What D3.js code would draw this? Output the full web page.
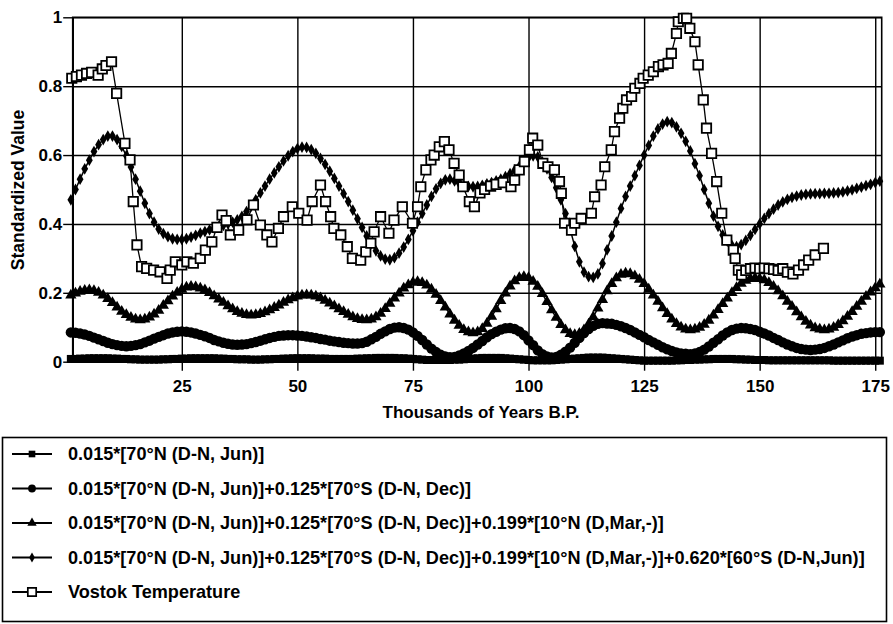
<!DOCTYPE html>
<html>
<head>
<meta charset="utf-8">
<script src="https://cdn.jsdelivr.net/npm/d3@7"></script>
<style>
  body { margin: 0; background: #fff; }
  text { font-family: "Liberation Sans", Arial, Helvetica, sans-serif; font-weight: bold; fill: #000; }
</style>
</head>
<body>
<svg id="chart"></svg>
<script>
// ages in thousands of years B.P., one value per kyr
const ages = d3.range(1, 177);

// 0.015*[70N (D-N, Jun)]
const s70N = [
  0.008,0.008,0.009,0.009,0.01,0.01,0.01,0.01,0.01,0.009,
  0.009,0.008,0.008,0.007,0.007,0.006,0.006,0.006,0.006,0.006,
  0.007,0.007,0.008,0.008,0.009,0.009,0.01,0.01,0.01,0.01,
  0.01,0.01,0.009,0.009,0.008,0.008,0.007,0.007,0.007,0.006,
  0.006,0.006,0.007,0.007,0.008,0.008,0.009,0.009,0.01,0.01,
  0.01,0.01,0.01,0.009,0.009,0.009,0.008,0.008,0.008,0.008,
  0.008,0.008,0.009,0.009,0.01,0.01,0.011,0.011,0.011,0.011,
  0.011,0.01,0.01,0.009,0.008,0.007,0.006,0.005,0.005,0.005,
  0.005,0.005,0.005,0.006,0.006,0.007,0.008,0.009,0.01,0.011,
  0.011,0.011,0.011,0.011,0.01,0.009,0.008,0.007,0.006,0.005,
  0.004,0.004,0.004,0.004,0.004,0.005,0.006,0.007,0.008,0.009,
  0.01,0.011,0.012,0.012,0.012,0.012,0.011,0.01,0.009,0.008,
  0.007,0.006,0.005,0.004,0.003,0.003,0.003,0.003,0.003,0.003,
  0.003,0.004,0.004,0.005,0.005,0.006,0.006,0.007,0.007,0.008,
  0.008,0.008,0.008,0.008,0.007,0.007,0.006,0.006,0.005,0.005,
  0.005,0.004,0.004,0.004,0.004,0.004,0.004,0.004,0.004,0.004,
  0.004,0.004,0.004,0.004,0.004,0.003,0.003,0.003,0.003,0.003,
  0.003,0.003,0.003,0.003,0.003,0.003
];

// + 0.125*[70S (D-N, Dec)]
const s70S = [
  0.085,0.084,0.082,0.079,0.075,0.070,0.065,0.060,0.055,0.051,
  0.048,0.046,0.045,0.046,0.048,0.051,0.056,0.061,0.067,0.072,
  0.077,0.082,0.085,0.087,0.088,0.087,0.085,0.082,0.078,0.074,
  0.069,0.063,0.059,0.055,0.052,0.050,0.049,0.050,0.051,0.054,
  0.057,0.061,0.065,0.069,0.072,0.075,0.076,0.077,0.077,0.076,
  0.075,0.073,0.071,0.069,0.066,0.064,0.061,0.059,0.057,0.055,
  0.054,0.053,0.053,0.054,0.058,0.065,0.072,0.081,0.088,0.095,
  0.099,0.100,0.098,0.093,0.085,0.075,0.063,0.050,0.038,0.028,
  0.020,0.015,0.013,0.014,0.018,0.024,0.031,0.040,0.050,0.060,
  0.071,0.080,0.087,0.093,0.097,0.098,0.095,0.088,0.077,0.062,
  0.048,0.033,0.022,0.015,0.012,0.014,0.020,0.029,0.041,0.055,
  0.069,0.083,0.095,0.104,0.110,0.112,0.111,0.110,0.107,0.103,
  0.098,0.092,0.085,0.078,0.071,0.063,0.056,0.049,0.042,0.036,
  0.031,0.027,0.024,0.023,0.022,0.024,0.028,0.035,0.044,0.055,
  0.065,0.076,0.085,0.092,0.096,0.098,0.097,0.095,0.092,0.087,
  0.082,0.076,0.069,0.063,0.056,0.050,0.045,0.040,0.037,0.035,
  0.034,0.035,0.037,0.040,0.045,0.050,0.056,0.062,0.068,0.073,
  0.077,0.081,0.083,0.085,0.086,0.086
];

// + 0.199*[10N (D,Mar,-)]
const s10N = [
  0.193,0.199,0.204,0.207,0.208,0.206,0.201,0.193,0.183,0.171,
  0.158,0.146,0.136,0.128,0.123,0.121,0.123,0.129,0.138,0.149,
  0.163,0.176,0.190,0.201,0.210,0.216,0.218,0.217,0.213,0.208,
  0.200,0.191,0.181,0.172,0.162,0.153,0.145,0.140,0.136,0.135,
  0.136,0.139,0.144,0.150,0.157,0.164,0.172,0.179,0.185,0.190,
  0.193,0.194,0.193,0.190,0.185,0.178,0.170,0.162,0.153,0.145,
  0.137,0.130,0.125,0.122,0.121,0.123,0.130,0.140,0.154,0.169,
  0.184,0.199,0.213,0.223,0.230,0.232,0.229,0.222,0.210,0.195,
  0.177,0.158,0.138,0.120,0.105,0.093,0.086,0.083,0.086,0.096,
  0.111,0.131,0.153,0.177,0.199,0.219,0.234,0.244,0.247,0.244,
  0.233,0.218,0.197,0.174,0.150,0.128,0.107,0.092,0.081,0.078,
  0.082,0.092,0.109,0.130,0.155,0.180,0.205,0.226,0.243,0.253,
  0.257,0.255,0.249,0.239,0.226,0.210,0.193,0.175,0.156,0.139,
  0.123,0.110,0.100,0.094,0.092,0.094,0.099,0.108,0.120,0.135,
  0.151,0.168,0.184,0.200,0.215,0.227,0.236,0.241,0.243,0.241,
  0.237,0.229,0.218,0.205,0.191,0.175,0.160,0.144,0.130,0.117,
  0.106,0.098,0.094,0.092,0.094,0.099,0.107,0.118,0.131,0.145,
  0.160,0.175,0.189,0.202,0.214,0.225
];

// + 0.620*[60S (D-N,Jun)]
const s60S = [
  0.47,0.50,0.53,0.56,0.585,0.61,0.63,0.645,0.655,0.655,
  0.645,0.625,0.598,0.565,0.53,0.495,0.46,0.43,0.405,0.385,
  0.372,0.363,0.357,0.355,0.355,0.357,0.362,0.367,0.373,0.378,
  0.383,0.388,0.392,0.396,0.4,0.405,0.412,0.422,0.436,0.452,
  0.47,0.49,0.51,0.53,0.548,0.566,0.583,0.598,0.61,0.619,
  0.623,0.622,0.616,0.605,0.59,0.573,0.553,0.532,0.51,0.488,
  0.465,0.44,0.415,0.39,0.365,0.343,0.322,0.307,0.298,0.296,
  0.302,0.315,0.333,0.355,0.38,0.405,0.43,0.455,0.48,0.502,
  0.518,0.528,0.53,0.525,0.518,0.512,0.509,0.508,0.509,0.512,
  0.516,0.52,0.525,0.53,0.537,0.546,0.556,0.567,0.58,0.592,
  0.598,0.595,0.58,0.56,0.535,0.505,0.47,0.43,0.385,0.335,
  0.29,0.26,0.247,0.245,0.255,0.285,0.325,0.365,0.405,0.445,
  0.48,0.51,0.54,0.57,0.6,0.628,0.655,0.676,0.69,0.697,
  0.694,0.682,0.663,0.64,0.612,0.575,0.54,0.5,0.46,0.423,
  0.393,0.368,0.35,0.338,0.334,0.34,0.352,0.367,0.384,0.4,
  0.416,0.43,0.443,0.455,0.464,0.471,0.477,0.481,0.484,0.486,
  0.487,0.488,0.488,0.489,0.489,0.49,0.491,0.493,0.496,0.499,
  0.503,0.507,0.511,0.515,0.52,0.524
];

const vostokAge = [
  1.2,2.2,3.3,4.4,5.5,6.9,7.8,8.6,9.8,10.9,12.7,13.8,14.5,15.3,16.3,17.4,18.9,20.3,21.8,22.5,
  23.6,25,26.1,27.5,29,30.1,31.5,32.6,33.7,34.6,35.5,37.3,39.1,40.5,42,43.4,44.5,45.9,47,48.9,
  50.3,52.1,53.2,55,56.1,57.2,57.9,59.4,60.8,61.9,63.7,64.8,65.9,66.6,68,69.8,70.9,72.7,74.9,76,
  76.7,77.8,78.9,79.6,80.7,81.8,82.8,83.9,85,85.8,87.2,88.3,89.5,90.5,91.8,93,94.5,96.2,97,98,
  99.1,100.2,100.9,102,103.1,104.2,105.6,106.7,107.1,107.8,109.3,110,111.4,113.6,114.3,115.7,116.5,117.9,118.6,119.7,
  120.4,121.2,122.3,123,124.1,124.8,125.9,127,128.1,129.1,130.2,130.9,132,132.4,133.5,134.2,134.9,136,136.7,137.8,
  138.5,139.6,140.7,141.8,142.9,144.3,144.7,145.4,146.1,147,148,149,150,151,152,153,154,155,156,157.2,
  158.4,159.5,160.6,162,163.8
];
const vostokTemp = [
  0.823,0.828,0.832,0.837,0.84,0.832,0.85,0.86,0.871,0.779,0.634,0.586,0.465,0.339,0.276,0.271,0.266,0.261,0.242,0.266,
  0.29,0.281,0.29,0.286,0.30,0.324,0.348,0.39,0.426,0.41,0.368,0.382,0.412,0.455,0.397,0.368,0.348,0.387,0.421,0.45,
  0.431,0.411,0.465,0.513,0.465,0.421,0.387,0.368,0.334,0.30,0.295,0.319,0.344,0.377,0.421,0.373,0.411,0.45,0.402,0.45,
  0.508,0.557,0.586,0.60,0.624,0.639,0.615,0.576,0.542,0.508,0.465,0.45,0.49,0.50,0.51,0.515,0.52,0.508,0.527,0.557,
  0.581,0.615,0.649,0.629,0.576,0.566,0.557,0.523,0.489,0.402,0.382,0.402,0.416,0.431,0.479,0.513,0.566,0.615,0.668,0.707,
  0.736,0.76,0.77,0.794,0.808,0.823,0.832,0.842,0.857,0.862,0.866,0.895,0.953,0.987,0.997,0.997,0.968,0.929,0.862,0.76,
  0.678,0.605,0.523,0.431,0.353,0.324,0.30,0.266,0.252,0.265,0.27,0.272,0.27,0.272,0.27,0.268,0.265,0.27,0.26,0.255,
  0.266,0.281,0.295,0.31,0.329
];

const xTicks = [25, 50, 75, 100, 125, 150, 175];
const yTicks = [0, 0.2, 0.4, 0.6, 0.8, 1];
const legendLabels = [
  "0.015*[70°N (D-N, Jun)]",
  "0.015*[70°N (D-N, Jun)]+0.125*[70°S (D-N, Dec)]",
  "0.015*[70°N (D-N, Jun)]+0.125*[70°S (D-N, Dec)]+0.199*[10°N (D,Mar,-)]",
  "0.015*[70°N (D-N, Jun)]+0.125*[70°S (D-N, Dec)]+0.199*[10°N (D,Mar,-)]+0.620*[60°S (D-N,Jun)]",
  "Vostok Temperature"
];

const width = 893, height = 624;
const plot = { left: 72.7, right: 881.7, top: 17.3, bottom: 361.7 };

const svg = d3.select("#chart").attr("width", width).attr("height", height);
svg.append("rect").attr("width", width).attr("height", height).attr("fill", "#fff");

const x = d3.scaleLinear().domain([1.4, 176.4]).range([plot.left, plot.right]);
const y = d3.scaleLinear().domain([0, 1]).range([plot.bottom, plot.top]);

// grid
svg.append("g")
  .attr("transform", `translate(0,${plot.bottom})`)
  .call(d3.axisBottom(x).tickValues(xTicks).tickSize(-(plot.bottom - plot.top)).tickFormat(""))
  .call(g => g.select(".domain").remove())
  .selectAll("line").attr("stroke", "#000").attr("stroke-width", 1.4);
svg.append("g")
  .attr("transform", `translate(${plot.left},0)`)
  .call(d3.axisLeft(y).tickValues(yTicks).tickSize(-(plot.right - plot.left)).tickFormat(""))
  .call(g => g.select(".domain").remove())
  .selectAll("line").attr("stroke", "#000").attr("stroke-width", 1.4);

svg.append("rect")
  .attr("x", plot.left).attr("y", plot.top)
  .attr("width", plot.right - plot.left).attr("height", plot.bottom - plot.top)
  .attr("fill", "none").attr("stroke", "#000").attr("stroke-width", 1.6);

// axes
const xAxis = svg.append("g")
  .attr("transform", `translate(0,${plot.bottom})`)
  .call(d3.axisBottom(x).tickValues(xTicks).tickSize(9).tickPadding(9).tickSizeOuter(0));
const yAxis = svg.append("g")
  .attr("transform", `translate(${plot.left},0)`)
  .call(d3.axisLeft(y).tickValues(yTicks).tickSize(9.5).tickPadding(1).tickSizeOuter(0)
    .tickFormat(d => d === 0 ? "0" : d === 1 ? "1" : d3.format(".1f")(d)));
[xAxis, yAxis].forEach(g => {
  g.select(".domain").attr("stroke", "#000").attr("stroke-width", 1.6);
  g.selectAll("line").attr("stroke", "#000").attr("stroke-width", 1.4);
  g.selectAll("text").attr("font-size", 17).attr("font-family", null);
});

svg.append("text")
  .attr("x", 481).attr("y", 418)
  .attr("text-anchor", "middle").attr("font-size", 17)
  .text("Thousands of Years B.P.");
svg.append("text")
  .attr("transform", "translate(24,190) rotate(-90)")
  .attr("text-anchor", "middle").attr("font-size", 17.5)
  .text("Standardized Value");

// series
const series = [
  { values: s70N, symbol: d3.symbolSquare, size: 64, fill: "#000" },
  { values: s70S, symbol: d3.symbolCircle, size: 85, fill: "#000" },
  { values: s10N, symbol: d3.symbolTriangle, size: 55, fill: "#000" },
  { values: s60S, symbol: d3.symbolDiamond, size: 40, fill: "#000" }
];
const line = d3.line().x((d, i) => x(ages[i])).y(d => y(d));

series.forEach(s => {
  svg.append("path").datum(s.values)
    .attr("d", line).attr("fill", "none").attr("stroke", "#000").attr("stroke-width", 1.5);
  svg.append("g").selectAll("path").data(s.values).join("path")
    .attr("d", d3.symbol().type(s.symbol).size(s.size))
    .attr("transform", (d, i) => `translate(${x(ages[i])},${y(d)})`)
    .attr("fill", s.fill);
});

const vostok = vostokAge.map((a, i) => [a, vostokTemp[i]]);
svg.append("path").datum(vostok)
  .attr("d", d3.line().x(d => x(d[0])).y(d => y(d[1])))
  .attr("fill", "none").attr("stroke", "#000").attr("stroke-width", 1.3);
svg.append("g").selectAll("path").data(vostok).join("path")
  .attr("d", d3.symbol().type(d3.symbolSquare).size(88))
  .attr("transform", d => `translate(${x(d[0])},${y(d[1])})`)
  .attr("fill", "#fff").attr("stroke", "#000").attr("stroke-width", 1.8);

// legend
svg.append("rect")
  .attr("x", 2.5).attr("y", 437.5).attr("width", 884).attr("height", 184)
  .attr("fill", "none").attr("stroke", "#000").attr("stroke-width", 1.6);

const legendMarks = [
  { symbol: d3.symbolSquare, size: 44, fill: "#000" },
  { symbol: d3.symbolCircle, size: 48, fill: "#000" },
  { symbol: d3.symbolTriangle, size: 38, fill: "#000" },
  { symbol: d3.symbolDiamond, size: 28, fill: "#000" },
  { symbol: d3.symbolSquare, size: 70, fill: "#fff" }
];
const legend = svg.append("g");
legendLabels.forEach((label, i) => {
  const by = 460 + i * 34.5;
  const cy = by - 6;
  const row = legend.append("g");
  row.append("line").attr("x1", 12).attr("x2", 52).attr("y1", cy).attr("y2", cy)
    .attr("stroke", "#000").attr("stroke-width", 2);
  row.append("path")
    .attr("d", d3.symbol().type(legendMarks[i].symbol).size(legendMarks[i].size))
    .attr("transform", `translate(32,${cy})`)
    .attr("fill", legendMarks[i].fill).attr("stroke", "#000")
    .attr("stroke-width", i === 4 ? 1.7 : 0);
  row.append("text").attr("x", 68).attr("y", by).attr("font-size", 18.1).text(label);
});
</script>
</body>
</html>
